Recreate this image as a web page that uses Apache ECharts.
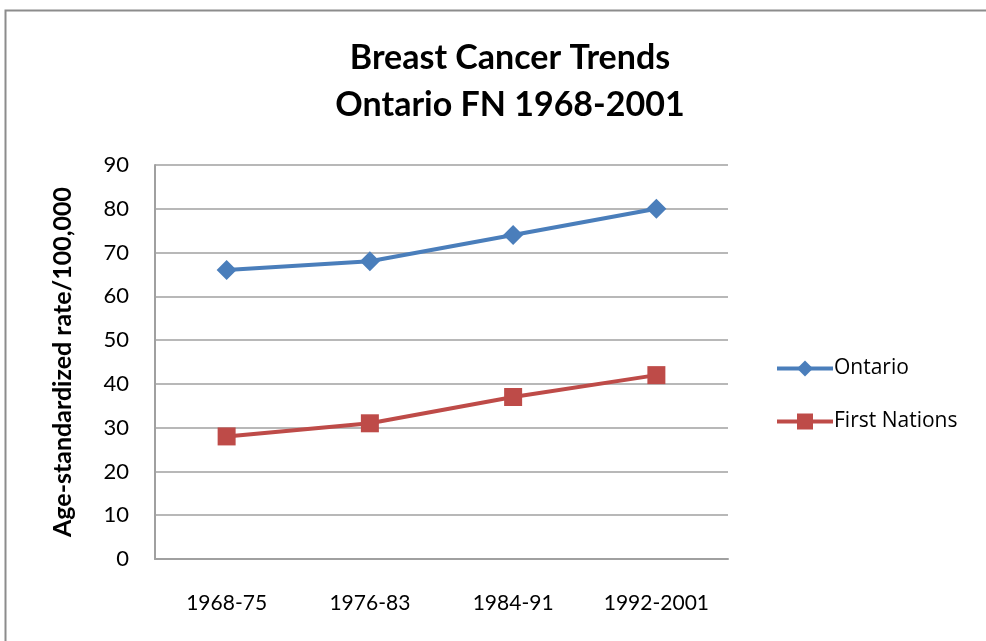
<!DOCTYPE html>
<html>
<head>
<meta charset="utf-8">
<script src="https://cdn.jsdelivr.net/npm/echarts@6/dist/echarts.min.js"></script>
<style>
  html, body { margin: 0; padding: 0; background: #fff; }
  #chart { width: 986px; height: 641px; }
</style>
</head>
<body>
<div id="chart"></div>
<script>
const periods = ['1968-75', '1976-83', '1984-91', '1992-2001']
const ontario = [66, 68, 74, 80]
const firstNations = [28, 31, 37, 42]

const font = 'Lato, "Open Sans", sans-serif'
const chart = echarts.init(document.getElementById('chart'))

chart.setOption({
  animation: false,
  backgroundColor: '#fff',
  graphic: [
    {
      type: 'rect',
      shape: { x: 5.5, y: 10.5, width: 1000, height: 700 },
      style: { fill: 'none', stroke: '#8c8c8c', lineWidth: 2 }
    }
  ],
  title: {
    text: 'Breast Cancer Trends\nOntario FN 1968-2001',
    left: 505,
    textAlign: 'center',
    top: 30,
    textStyle: {
      fontFamily: font,
      fontSize: 34,
      fontWeight: 'bold',
      color: '#000',
      lineHeight: 47
    }
  },
  legend: {
    orient: 'vertical',
    left: 770,
    top: 353,
    itemWidth: 56,
    itemHeight: 20,
    itemGap: 32,
    lineStyle: { width: 4 },
    textStyle: { fontFamily: '"Open Sans", sans-serif', fontSize: 21, color: '#000', padding: [0, 0, 0, -4] },
    data: ['Ontario', 'First Nations']
  },
  grid: {
    left: 155,
    right: 258,
    top: 165,
    bottom: 82
  },
  xAxis: {
    type: 'category',
    data: periods,
    boundaryGap: true,
    axisLine: { lineStyle: { color: '#a0a0a0', width: 2 } },
    axisTick: { show: false },
    axisLabel: {
      interval: 0,
      fontFamily: font,
      fontSize: 21,
      color: '#000',
      margin: 34
    }
  },
  yAxis: {
    type: 'value',
    min: 0,
    max: 90,
    interval: 10,
    name: 'Age-standardized rate/100,000',
    nameLocation: 'middle',
    nameGap: 80,
    nameRotate: 90,
    nameTextStyle: {
      fontFamily: font,
      fontSize: 25,
      fontWeight: 'bold',
      color: '#000'
    },
    axisLine: { show: true, lineStyle: { color: '#a0a0a0', width: 2 } },
    axisTick: { show: false },
    splitLine: { lineStyle: { color: '#a0a0a0', width: 1.5 } },
    axisLabel: {
      fontFamily: font,
      fontSize: 22,
      color: '#000',
      margin: 26
    }
  },
  series: [
    {
      name: 'Ontario',
      type: 'line',
      data: ontario,
      symbol: 'diamond',
      symbolSize: 20,
      lineStyle: { color: '#4a7ebb', width: 4 },
      itemStyle: { color: '#4a7ebb' }
    },
    {
      name: 'First Nations',
      type: 'line',
      data: firstNations,
      symbol: 'rect',
      symbolSize: 18,
      lineStyle: { color: '#be4b48', width: 4 },
      itemStyle: { color: '#be4b48' }
    }
  ]
})
</script>
</body>
</html>
